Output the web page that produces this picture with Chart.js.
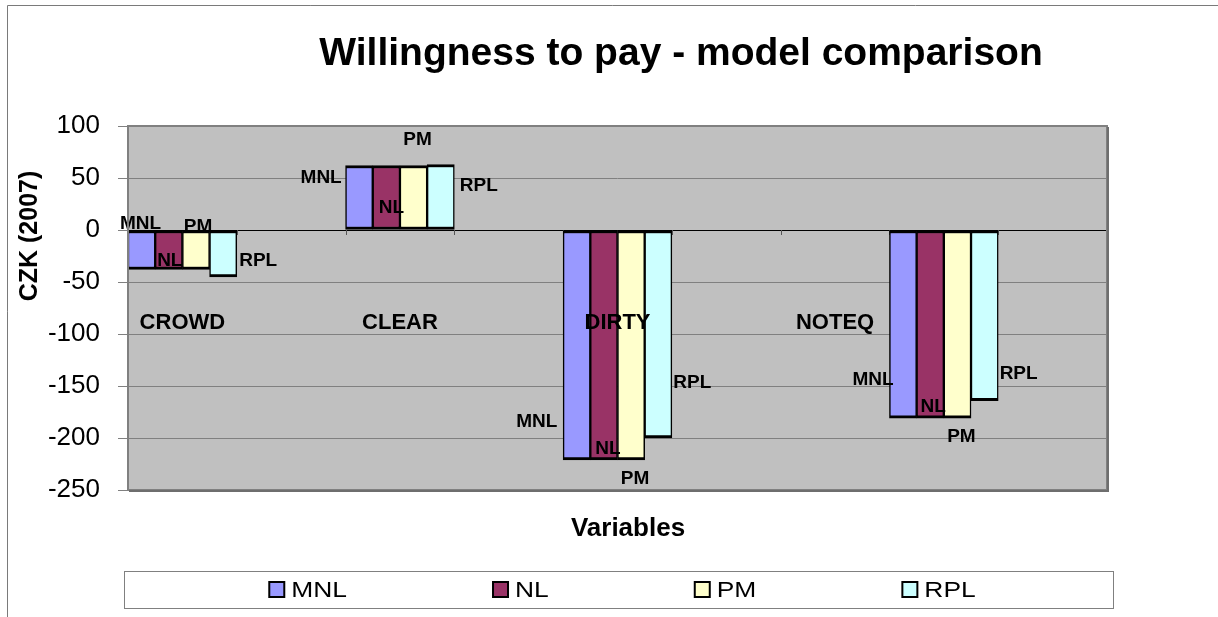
<!DOCTYPE html>
<html>
<head>
<meta charset="utf-8">
<script src="https://cdn.jsdelivr.net/npm/chart.js@4.4.0/dist/chart.umd.min.js"></script>
<style>
  html, body { margin: 0; padding: 0; background: #fff; }
</style>
</head>
<body>
<canvas id="myChart" width="1218" height="617"></canvas>
<script>
const categories = ['CROWD', 'CLEAR', 'DIRTY', 'NOTEQ'];
const seriesNames = ['MNL', 'NL', 'PM', 'RPL'];
const mnl = [-38, 62, -221, -181];
const nl = [-38, 62, -221, -181];
const pm = [-38, 62, -221, -181];
const rpl = [-45, 63, -200, -164];
const yTicks = [100, 50, 0, -50, -100, -150, -200, -250];

// the sheet lays the groups on a 9 slot axis, NOTEQ bars sit one slot right of their label
const slotCount = 9;
const barSlot = [0, 2, 4, 7];
const labelSlot = [0, 2, 4, 6];
const catLabelValue = -89;

const colors = ['#9999FF', '#993366', '#FFFFCC', '#CCFFFF'];
const FONT = "'Liberation Sans', Arial, sans-serif";

// [dx, dy] px nudges of the series-name labels, measured from bar centre / bar end
const nudge = {
  MNL: [[-1, -46], [-38, 12], [-40, -38], [-30, -38]],
  NL:  [[1, -9], [5, 42], [4, -11], [3, -11]],
  PM:  [[2, -43], [4, -26], [4, 19], [4, 19]],
  RPL: [[35, -16], [38, 21], [34, -55], [34, -27]]
};

function toSlots(values) {
  const out = new Array(slotCount).fill(null);
  values.forEach((v, i) => { out[barSlot[i]] = v; });
  return out;
}

const seriesValues = [mnl, nl, pm, rpl];

const excelPlugin = {
  id: 'excelLook',
  beforeDraw(chart) {
    const { ctx, chartArea: a } = chart;
    ctx.save();
    ctx.fillStyle = '#fff';
    ctx.fillRect(0, 0, chart.width, chart.height);
    ctx.fillStyle = '#C0C0C0';
    ctx.fillRect(a.left, a.top, a.right - a.left, a.bottom - a.top);
    ctx.restore();
  },
  beforeDatasetsDraw(chart) {
    // little category ticks hanging off the zero line
    const { ctx, chartArea: a, scales: { y } } = chart;
    const y0 = y.getPixelForValue(0);
    const w = (a.right - a.left) / slotCount;
    ctx.save();
    ctx.strokeStyle = '#555';
    ctx.lineWidth = 1;
    for (let k = 1; k < slotCount; k++) {
      const x = Math.round(a.left + k * w) + 0.5;
      ctx.beginPath();
      ctx.moveTo(x, y0);
      ctx.lineTo(x, y0 + 5);
      ctx.stroke();
    }
    ctx.restore();
  },
  afterDatasetsDraw(chart) {
    const { ctx, scales: { x, y } } = chart;
    ctx.save();
    ctx.fillStyle = '#000';
    ctx.textAlign = 'center';
    ctx.textBaseline = 'middle';
    ctx.font = 'bold 22px ' + FONT;
    categories.forEach((c, i) => {
      ctx.fillText(c, x.getPixelForValue(labelSlot[i]), y.getPixelForValue(catLabelValue));
    });
    ctx.font = 'bold 19px ' + FONT;
    chart.data.datasets.forEach((ds, di) => {
      const meta = chart.getDatasetMeta(di);
      categories.forEach((c, ci) => {
        const el = meta.data[barSlot[ci]];
        const [dx, dy] = nudge[ds.label][ci];
        ctx.fillText(ds.label, el.x + dx, el.y + dy);
      });
    });
    ctx.restore();
  },
  afterDraw(chart) {
    const { ctx, chartArea: a } = chart;
    ctx.save();
    // plot frame
    ctx.strokeStyle = '#808080';
    ctx.lineWidth = 2;
    ctx.strokeRect(a.left, a.top, a.right - a.left, a.bottom - a.top);
    ctx.strokeStyle = '#6e6e6e';
    ctx.lineWidth = 2;
    ctx.beginPath();
    ctx.moveTo(a.right + 1, a.top + 1);
    ctx.lineTo(a.right + 1, a.bottom + 1);
    ctx.lineTo(a.left + 1, a.bottom + 1);
    ctx.stroke();

    // outer chart border (left and top are what shows)
    ctx.strokeStyle = '#7a7a7a';
    ctx.lineWidth = 1;
    ctx.beginPath();
    ctx.moveTo(7.5, chart.height);
    ctx.lineTo(7.5, 5.5);
    ctx.lineTo(chart.width, 5.5);
    ctx.stroke();

    ctx.fillStyle = '#000';
    ctx.textAlign = 'center';
    ctx.textBaseline = 'middle';
    ctx.font = 'bold 39px ' + FONT;
    ctx.fillText('Willingness to pay - model comparison', 681, 54);

    ctx.font = 'bold 26px ' + FONT;
    ctx.fillText('Variables', 628, 529);

    ctx.save();
    ctx.translate(30, 236);
    ctx.rotate(-Math.PI / 2);
    ctx.font = 'bold 25px ' + FONT;
    ctx.fillText('CZK (2007)', 0, 0);
    ctx.restore();

    // legend box
    const bx = a.left - 4, by = 571, bw = (a.right + 6) - bx, bh = 37;
    ctx.strokeStyle = '#808080';
    ctx.lineWidth = 1;
    ctx.strokeRect(bx + 0.5, by + 0.5, bw, bh);

    const sx = 1.2, gapBox = 7, gapItem = 146, sw = 15;
    ctx.font = '22px ' + FONT;
    const items = chart.data.datasets.map(ds => ({
      label: ds.label, color: ds.backgroundColor,
      w: sw + gapBox + ctx.measureText(ds.label).width * sx
    }));
    const total = items.reduce((s, it) => s + it.w, 0) + gapItem * (items.length - 1);
    let cx = (a.left + a.right) / 2 + 5 - total / 2;
    const cy = 589.5;
    items.forEach(it => {
      ctx.fillStyle = it.color;
      ctx.fillRect(cx, cy - 7.5, sw, sw);
      ctx.strokeStyle = '#000';
      ctx.lineWidth = 2;
      ctx.strokeRect(cx, cy - 7.5, sw, sw);
      ctx.save();
      ctx.translate(cx + sw + gapBox, cy);
      ctx.scale(sx, 1);
      ctx.fillStyle = '#000';
      ctx.textAlign = 'left';
      ctx.fillText(it.label, 0, 1);
      ctx.restore();
      cx += it.w + gapItem;
    });
    ctx.restore();
  }
};

const ctx = document.getElementById('myChart').getContext('2d');
const myChart = new Chart(ctx, {
  type: 'bar',
  data: {
    labels: new Array(slotCount).fill(''),
    datasets: seriesNames.map((name, i) => ({
      label: name,
      data: toSlots(seriesValues[i]),
      backgroundColor: colors[i],
      borderColor: '#000',
      borderWidth: { top: 3, bottom: 3, left: 1.5, right: 1.5 },
      borderSkipped: false,
      categoryPercentage: 1,
      barPercentage: 1
    }))
  },
  options: {
    responsive: false,
    animation: false,
    layout: { padding: { left: 0, right: 111, top: 126, bottom: 127 } },
    plugins: {
      legend: { display: false },
      title: { display: false },
      tooltip: { enabled: false }
    },
    scales: {
      x: { display: false },
      y: {
        min: -250,
        max: 100,
        afterBuildTicks: s => { s.ticks = yTicks.map(v => ({ value: v })); },
        ticks: { font: { family: FONT, size: 26 }, color: '#000', padding: 18 },
        grid: {
          color: c => (c.tick && c.tick.value === 0 ? '#000' : '#808080'),
          tickColor: '#808080',
          tickLength: 10,
          lineWidth: 1
        },
        border: { display: false },
        afterFit: s => { s.width = 128; }
      }
    }
  },
  plugins: [excelPlugin]
});
</script>
</body>
</html>
